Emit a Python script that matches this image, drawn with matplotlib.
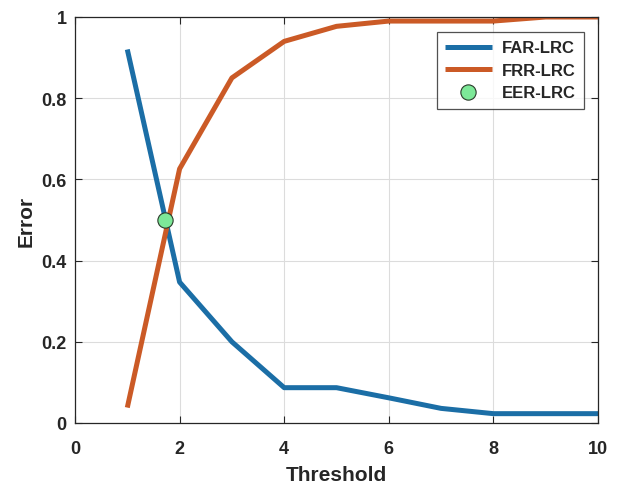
import matplotlib
matplotlib.use("Agg")
import matplotlib.pyplot as plt

threshold = [1, 2, 3, 4, 5, 6, 7, 8, 9, 10]
far_lrc = [0.92, 0.347, 0.20, 0.087, 0.087, 0.062, 0.036, 0.023, 0.023, 0.023]
frr_lrc = [0.038, 0.626, 0.85, 0.94, 0.977, 0.99, 0.99, 0.99, 1.0, 1.0]
eer_x = [1.73]
eer_y = [0.5]

plt.rcParams['font.family'] = ['Liberation Sans', 'DejaVu Sans']
plt.rcParams['font.weight'] = 'bold'

fig = plt.figure(figsize=(6.21, 4.85), dpi=100)
ax = fig.add_axes([75/621, 61/485, 523/621, 406/485])

ax.plot(threshold, far_lrc, color='#1b6ea6', lw=3.6, label='FAR-LRC', solid_capstyle='butt')
ax.plot(threshold, frr_lrc, color='#cb5a26', lw=3.6, label='FRR-LRC', solid_capstyle='butt')
ax.plot(eer_x, eer_y, 'o', markersize=11, markerfacecolor='#7de898',
        markeredgecolor='#2a3a2a', markeredgewidth=0.8, linestyle='none', label='EER-LRC')

ax.set_xlim(0, 10)
ax.set_ylim(0, 1)
ax.set_xticks([0, 2, 4, 6, 8, 10])
ax.set_yticks([0, 0.2, 0.4, 0.6, 0.8, 1])
ax.set_yticklabels(['0', '0.2', '0.4', '0.6', '0.8', '1'])
ax.grid(True, color='#dcdcdc', lw=0.8)
ax.set_axisbelow(True)
ax.tick_params(direction='in', top=True, right=True, length=5, width=0.8,
               labelsize=13, colors='#262626')
ax.tick_params(axis='x', pad=12)
ax.tick_params(axis='y', pad=6)
for lab in ax.get_xticklabels() + ax.get_yticklabels():
    lab.set_fontweight('bold')
for s in ax.spines.values():
    s.set_color('#262626')
    s.set_linewidth(0.9)

ax.set_xlabel('Threshold', fontsize=15, fontweight='bold', color='#262626', labelpad=6)
ax.set_ylabel('Error', fontsize=15, fontweight='bold', color='#262626', labelpad=4)

leg = ax.legend(loc='upper right', bbox_to_anchor=(0.973, 0.963), borderaxespad=0,
                fontsize=12, frameon=True, fancybox=False, edgecolor='#262626',
                handlelength=2.8, borderpad=0.5, labelspacing=0.45, handletextpad=0.6)
leg.get_frame().set_linewidth(0.9)
for t in leg.get_texts():
    t.set_fontweight('bold')
    t.set_color('#262626')

fig.savefig('out.png', dpi=100)
